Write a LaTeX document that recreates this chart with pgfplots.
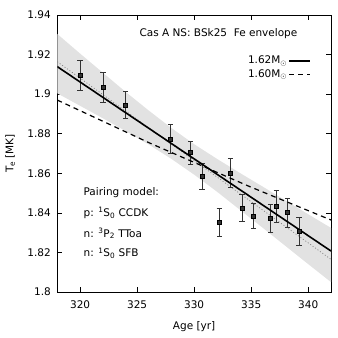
\documentclass[border=0pt]{standalone}
\usepackage{fontspec}
\setmainfont{DejaVu Sans}
\usepackage{pgfplots}
\pgfplotsset{compat=1.18}
\definecolor{band}{HTML}{E2E2E2}
\definecolor{errc}{HTML}{333333}

\begin{document}
\begin{tikzpicture}[font=\fontsize{10.5bp}{12.5bp}\selectfont]
\useasboundingbox (-57.3bp,-46bp) rectangle (280.7bp,292bp);
\begin{axis}[
  at={(0,0)}, anchor=south west,
  scale only axis, width=273.7bp, height=277bp,
  xmin=318, xmax=342, ymin=1.8, ymax=1.94,
  xtick={320,325,330,335,340},
  ytick={1.8,1.82,1.84,1.86,1.88,1.9,1.92,1.94},
  /pgf/number format/assume math mode=true,
  tick align=inside, major tick length=5bp,
  tick style={black, line width=0.6bp},
  axis line style={line width=0.8bp},
  xticklabel style={yshift=-5bp},
  yticklabel style={xshift=-3bp},
  xlabel={Age [yr]},
  ylabel={T\textsubscript{e} [MK]},
  xlabel style={at={(axis description cs:0.5,-0.125)}, anchor=center},
  ylabel style={at={(axis description cs:-0.172,0.5)}, anchor=center},
  legend plot pos=right,
  legend cell align=right,
  legend style={at={(axis description cs:1,1)}, anchor=north east,
    xshift=-17bp, yshift=-38bp, draw=none, fill=none,
    row sep=2bp, nodes={inner sep=1bp}},
  legend image code/.code={\draw[#1] (0bp,0bp) -- (21bp,0bp);},
]
% observational fit band (upper edge, then lower edge backwards)
\addplot[fill=band, draw=none, forget plot] coordinates {
  (318,1.9304) (320,1.9205) (322,1.9108) (324,1.9011) (326,1.8918)
  (328,1.8829) (330,1.8747) (332,1.8673) (334,1.8602) (336,1.8533)
  (338,1.8463) (340,1.8393) (342,1.8324)
  (342,1.8050) (340,1.8141) (338,1.8233) (336,1.8325) (334,1.8416)
  (332,1.8507) (330,1.8593) (328,1.8673) (326,1.8746) (324,1.8813)
  (322,1.8878) (320,1.8941) (318,1.9004)} -- cycle;
% best linear fit
\addplot[gray, line width=0.7bp, dash pattern=on 1bp off 2bp, forget plot]
  coordinates {(318,1.9164) (342,1.8165)};
% Cas A data
\addplot[forget plot, only marks, mark=square*, mark size=2bp,
  mark options={fill=black!80, draw=black, line width=0.6bp},
  error bars/.cd, y dir=both, y explicit,
  error bar style={errc, line width=0.8bp},
  error mark options={rotate=90, mark size=2.7bp, errc, line width=0.8bp}]
  coordinates {
  (320.0,1.9095) +- (0,0.0075)
  (322.0,1.9033) +- (0,0.0075)
  (324.0,1.8945) +- (0,0.0068)
  (327.9,1.8773) +- (0,0.0072)
  (329.7,1.8704) +- (0,0.0058)
  (330.7,1.8583) +- (0,0.0065)
  (332.2,1.8352) +- (0,0.0071)
  (333.2,1.8602) +- (0,0.0071)
  (334.2,1.8423) +- (0,0.0068)
  (335.2,1.8383) +- (0,0.0064)
  (336.7,1.8373) +- (0,0.0071)
  (337.2,1.8431) +- (0,0.0080)
  (338.2,1.8401) +- (0,0.0073)
  (339.2,1.8305) +- (0,0.0070)};
% cooling curves
\addplot[black, line width=1.6bp] coordinates {(318,1.9139) (330,1.8673) (342,1.8207)};
\addlegendentry{1.62M$_\odot$}
\addplot[black, line width=1.2bp, dash pattern=on 5bp off 4bp]
  coordinates {(318,1.8970) (326.1,1.8753) (334.9,1.8532) (342,1.8364)};
\addlegendentry{1.60M$_\odot$}
\node[anchor=west] at (axis cs:324.9,1.9308) {Cas A NS: BSk25\ \ Fe envelope};
\node[anchor=west] at (axis cs:320,1.8500) {Pairing model:};
\node[anchor=west] at (axis cs:320,1.8398) {p: \textsuperscript{1}S\textsubscript{0} CCDK};
\node[anchor=west] at (axis cs:320,1.8297) {n: \textsuperscript{3}P\textsubscript{2} TToa};
\node[anchor=west] at (axis cs:320,1.8196) {n: \textsuperscript{1}S\textsubscript{0} SFB};
\end{axis}
\end{tikzpicture}
\end{document}
